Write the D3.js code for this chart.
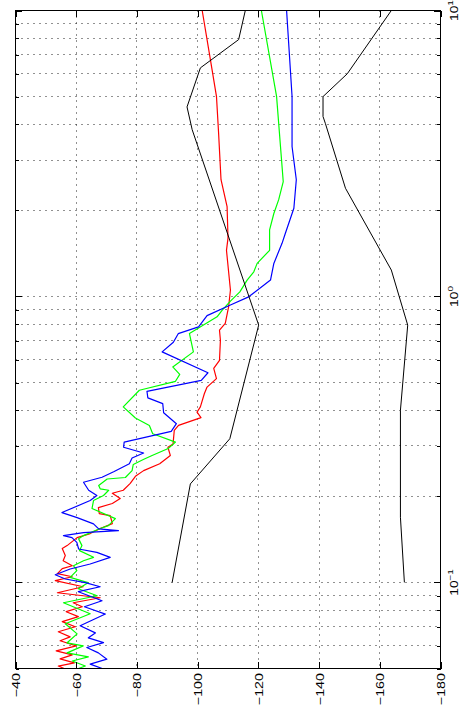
<!DOCTYPE html>
<html>
<head>
<meta charset="utf-8">
<script src="https://cdn.jsdelivr.net/npm/d3@7"></script>
<style>
  html, body { margin: 0; padding: 0; background: #fff; }
  svg { display: block; }
  text { font-family: "Liberation Sans", Arial, Helvetica, sans-serif; fill: #000; }
</style>
</head>
<body>
<svg id="chart" width="463" height="717"></svg>
<script>
// Level axis ticks (dB) and log-frequency ticks (Hz)
const dbTicks = [-40, -60, -80, -100, -120, -140, -160, -180];
const freqTicks = [0.05, 0.06, 0.07, 0.08, 0.09, 0.1, 0.2, 0.3, 0.4, 0.5, 0.6, 0.7, 0.8, 0.9,
                   1, 2, 3, 4, 5, 6, 7, 8, 9, 10];
const freqMajor = [0.1, 1, 10];
const freqLabelExp = ["−1", "0", "1"];

// Spectra as [frequency (Hz), level (dB)]
const redSeries = [
  [10, -101.5], [6.73, -104.2], [5.01, -106.2], [3.73, -106.9], [2.56, -107.7], [2.06, -109.7],
  [1.60, -110.0], [1.45, -109.5], [1.053, -110.8], [0.920, -110.2], [0.805, -109.1], [0.762, -107.2],
  [0.703, -107.5], [0.598, -107.2], [0.560, -105.3], [0.516, -106.2], [0.482, -103.1], [0.457, -102.2],
  [0.411, -100.9], [0.394, -99.8], [0.377, -101.1], [0.354, -93.7], [0.340, -92.3], [0.305, -91.9],
  [0.297, -90.2], [0.278, -91.0], [0.260, -87.5], [0.246, -82.2], [0.235, -79.5], [0.222, -77.8],
  [0.210, -75.5], [0.205, -71.9], [0.1965, -74.5], [0.1888, -71.9], [0.1827, -67.3], [0.1741, -67.6],
  [0.1713, -71.2], [0.1606, -71.9], [0.1543, -67.9], [0.1482, -64.6], [0.1434, -60.3], [0.1345, -57.0],
  [0.1313, -55.4], [0.1241, -56.4], [0.1191, -55.7], [0.1144, -58.7], [0.1117, -55.4], [0.1073, -53.8],
  [0.1047, -58.7], [0.1014, -53.1], [0.0966, -62.3], [0.0920, -53.8], [0.0884, -67.9], [0.0849, -59.0],
  [0.0822, -62.0], [0.0790, -56.7], [0.0759, -60.7], [0.0729, -55.4], [0.0700, -59.7], [0.0672, -54.1],
  [0.0645, -58.0], [0.0625, -54.7], [0.0600, -60.0], [0.0576, -53.4], [0.0558, -58.7], [0.0540, -54.7],
  [0.0523, -59.4], [0.0510, -54.1], [0.0498, -56.4]
];

const greenSeries = [
  [10, -121.0], [5.01, -126.0], [2.52, -128.2], [2.18, -126.7], [1.95, -125.1], [1.71, -123.7],
  [1.45, -123.7], [1.305, -119.6], [1.22, -118.5], [1.141, -116.3], [1.038, -113.9], [0.963, -110.8],
  [0.896, -108.1], [0.849, -106.4], [0.742, -97.3], [0.640, -98.6], [0.567, -91.8], [0.534, -94.1],
  [0.505, -92.7], [0.470, -80.8], [0.411, -75.5], [0.376, -79.5], [0.354, -84.1], [0.331, -85.2],
  [0.3094, -92.7], [0.294, -90.3], [0.278, -85.0], [0.269, -82.1], [0.2585, -78.8], [0.246, -78.4],
  [0.2328, -76.2], [0.2300, -70.2], [0.2183, -67.4], [0.2125, -67.9], [0.210, -70.7], [0.2013, -69.0],
  [0.1933, -65.7], [0.1813, -65.2], [0.1672, -72.9], [0.1580, -70.6], [0.1543, -67.9], [0.1458, -62.4],
  [0.1420, -60.8], [0.1345, -61.9], [0.1292, -61.1], [0.1224, -65.7], [0.1191, -62.4], [0.1144, -59.1],
  [0.1099, -60.2], [0.1041, -58.0], [0.0998, -63.9], [0.0950, -60.7], [0.0898, -66.9], [0.0849, -55.8],
  [0.0777, -64.6], [0.0717, -56.4], [0.0661, -60.3], [0.0615, -57.0], [0.0600, -62.3], [0.0567, -57.0],
  [0.0549, -64.0], [0.0531, -58.7], [0.0510, -63.0], [0.0498, -60.3]
];

const blueSeries = [
  [10, -129.3], [5.01, -131.1], [3.345, -131.1], [2.56, -132.5], [2.035, -131.7], [1.663, -128.9],
  [1.534, -127.8], [1.305, -125.1], [1.141, -124.0], [0.997, -116.8], [0.933, -110.8], [0.857, -103.1],
  [0.783, -100.3], [0.741, -93.6], [0.692, -92.0], [0.640, -88.3], [0.541, -103.4], [0.509, -101.2],
  [0.466, -83.3], [0.442, -83.6], [0.422, -88.5], [0.392, -88.8], [0.359, -93.0], [0.3374, -91.3],
  [0.3094, -75.8], [0.297, -75.6], [0.2836, -82.2], [0.2724, -78.4], [0.260, -77.5], [0.2443, -72.5],
  [0.2333, -68.5], [0.2241, -62.4], [0.210, -64.1], [0.2013, -66.8], [0.1933, -64.6], [0.1755, -55.3],
  [0.1685, -60.3], [0.1602, -65.7], [0.1539, -67.4], [0.1518, -73.9], [0.1493, -62.4], [0.1458, -55.8],
  [0.1434, -58.6], [0.1381, -60.2], [0.1309, -60.8], [0.1274, -66.8], [0.1224, -71.2], [0.1160, -64.6],
  [0.1114, -58.0], [0.1064, -53.1], [0.1028, -56.4], [0.0998, -63.0], [0.0966, -67.9], [0.0928, -60.7],
  [0.0863, -68.5], [0.0822, -62.7], [0.0775, -69.6], [0.0705, -61.3], [0.0666, -66.3], [0.0640, -64.0],
  [0.0616, -69.0], [0.0592, -63.5], [0.0567, -67.3], [0.0539, -70.1], [0.0518, -64.6], [0.0498, -69.0]
];

// Envelope curves
const upperLimit = [
  [10, -115.7], [7.91, -113.5], [6.30, -100.9], [4.60, -96.5], [3.83, -98.2],
  [0.794, -120.1], [0.318, -110.6], [0.221, -97.6], [0.1, -91.6]
];
const lowerLimit = [
  [10, -163.8], [6.01, -149.3], [5.0, -141.3], [4.26, -141.3], [4.02, -142.1], [2.39, -148.7],
  [1.237, -163.8], [0.794, -169.2], [0.400, -166.8], [0.169, -166.8], [0.1, -168.1]
];

const seriesList = [
  { data: redSeries, color: "#ff0000", width: 1.2 },
  { data: greenSeries, color: "#00ff00", width: 1.2 },
  { data: blueSeries, color: "#0000ff", width: 1.2 },
  { data: upperLimit, color: "#000000", width: 1 },
  { data: lowerLimit, color: "#000000", width: 1 }
];

const svg = d3.select("#chart");
const box = { left: 15.5, right: 440.5, top: 10.5, bottom: 668.5 };
const tickMajor = 6.5, tickMinor = 3.5;

// Level runs left-to-right, frequency bottom-to-top
const x = d3.scaleLinear().domain([-40, -180]).range([box.left, box.right]);
const y = d3.scaleLog().domain([0.05, 10]).range([box.bottom, box.top]);
const crisp = v => Math.round(v - 0.5) + 0.5;

svg.append("defs").append("clipPath").attr("id", "plotClip")
  .append("rect")
  .attr("x", box.left).attr("y", box.top)
  .attr("width", box.right - box.left).attr("height", box.bottom - box.top);

// Dotted grid
const grid = svg.append("g").attr("stroke", "#222").attr("stroke-width", 1).attr("fill", "none");
grid.selectAll("line.vgrid")
  .data(dbTicks.filter(d => d !== -40 && d !== -180))
  .join("line").attr("class", "vgrid")
  .attr("x1", d => crisp(x(d))).attr("x2", d => crisp(x(d)))
  .attr("y1", box.top).attr("y2", box.bottom)
  .attr("stroke-dasharray", "1,5");
grid.selectAll("line.hgrid")
  .data(freqTicks.filter(d => d !== 0.05 && d !== 10))
  .join("line").attr("class", "hgrid")
  .attr("y1", d => crisp(y(d))).attr("y2", d => crisp(y(d)))
  .attr("x1", box.left).attr("x2", box.right)
  .attr("stroke-dasharray", "1,5");

// Curves
const line = d3.line().x(d => x(d[1])).y(d => y(d[0]));
svg.append("g").attr("clip-path", "url(#plotClip)")
  .selectAll("path")
  .data(seriesList)
  .join("path")
  .attr("d", d => line(d.data))
  .attr("fill", "none")
  .attr("stroke", d => d.color)
  .attr("stroke-width", d => d.width)
  .attr("stroke-linejoin", "round");

// Axes with inward ticks on all four sides
function styleAxis(g) {
  g.select(".domain").remove();
  g.selectAll(".tick line").attr("stroke", "#000").attr("shape-rendering", "crispEdges");
}

const bottomAxis = svg.append("g")
  .attr("transform", `translate(0,${box.bottom})`)
  .call(d3.axisBottom(x).tickValues(dbTicks).tickSizeInner(-tickMajor).tickSizeOuter(0)
        .tickFormat(d => String(d).replace("-", "\u2212")))
  .call(styleAxis);
bottomAxis.attr("font-size", null).attr("font-family", null);
bottomAxis.selectAll(".tick text")
  .attr("x", null).attr("y", null).attr("dy", "0.36em")
  .attr("text-anchor", "end")
  .attr("font-size", 11)
  .attr("transform", "translate(0,4.5) rotate(-90) scale(1.3,1)");

svg.append("g")
  .attr("transform", `translate(0,${box.top})`)
  .call(d3.axisTop(x).tickValues(dbTicks).tickSizeInner(-tickMajor).tickSizeOuter(0).tickFormat(""))
  .call(styleAxis);

const leftAxis = svg.append("g")
  .attr("transform", `translate(${box.left},0)`)
  .call(d3.axisLeft(y).tickValues(freqTicks).tickSizeInner(-tickMinor).tickSizeOuter(0).tickFormat(""))
  .call(styleAxis);
leftAxis.selectAll(".tick line").filter(d => freqMajor.includes(d)).attr("x2", tickMajor);

const rightAxis = svg.append("g")
  .attr("transform", `translate(${box.right},0)`)
  .call(d3.axisRight(y).tickValues(freqTicks).tickSizeInner(-tickMinor).tickSizeOuter(0).tickFormat(""))
  .call(styleAxis);
rightAxis.selectAll(".tick line").filter(d => freqMajor.includes(d)).attr("x2", -tickMajor);

// Decade labels 10^n beside the right edge
const decadeLabels = svg.append("g").selectAll("text")
  .data(freqMajor)
  .join("text")
  .attr("text-anchor", "middle")
  .attr("font-size", 11)
  .attr("transform", d => `translate(${box.right + 17},${y(d)}) rotate(-90) scale(1.25,1)`);
decadeLabels.append("tspan").text("10");
decadeLabels.append("tspan")
  .attr("font-size", 8)
  .attr("dy", "-0.55em")
  .text((d, i) => freqLabelExp[i]);

// Plot frame
svg.append("rect")
  .attr("x", box.left).attr("y", box.top)
  .attr("width", box.right - box.left).attr("height", box.bottom - box.top)
  .attr("fill", "none").attr("stroke", "#000").attr("stroke-width", 1);
</script>
</body>
</html>
